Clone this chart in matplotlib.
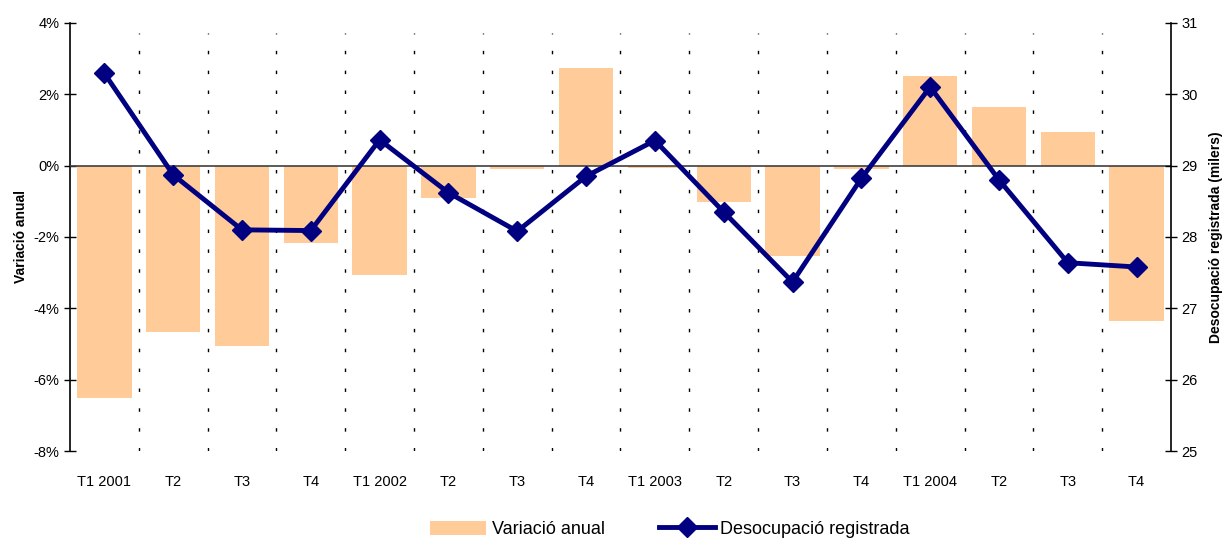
import numpy as np
import matplotlib
matplotlib.use("Agg")
import matplotlib.pyplot as plt
from matplotlib.ticker import FuncFormatter

plt.rcParams['font.family'] = ['Liberation Sans Narrow', 'Liberation Sans', 'DejaVu Sans']

# data
categories = ['T1 2001', 'T2', 'T3', 'T4',
              'T1 2002', 'T2', 'T3', 'T4',
              'T1 2003', 'T2', 'T3', 'T4',
              'T1 2004', 'T2', 'T3', 'T4']
variacio = [-6.50, -4.65, -5.04, -2.16,
            -3.06, -0.90, -0.10, 2.73,
            -0.06, -1.01, -2.52, -0.10,
            2.50, 1.63, 0.94, -4.34]
desocupacio = [30.29, 28.87, 28.10, 28.09,
               29.36, 28.62, 28.08, 28.85,
               29.35, 28.35, 27.37, 28.82,
               30.10, 28.80, 27.64, 27.58]

bar_color = '#FFCC99'
line_color = '#000080'

fig = plt.figure(figsize=(12.23, 5.38), dpi=100)
ax = fig.add_axes([0.0572, 0.161, 0.9003, 0.797])
ax2 = ax.twinx()

x = np.arange(len(categories))
bars = ax.bar(x, variacio, width=0.79, color=bar_color, zorder=2, label='Variació anual')
ax.axhline(0, color='#404040', lw=1.2, zorder=3)

# dotted separators between categories
for b in x[:-1] + 0.5:
    ax.axvline(b, ymax=0.975, color='black', lw=1.0, linestyle=(0, (2.5, 11.8)), zorder=1)

ax.set_xlim(-0.5, len(categories) - 0.5)
ax.set_ylim(-8, 4)
ax.set_yticks(np.arange(-8, 5, 2))
ax.yaxis.set_major_formatter(FuncFormatter(lambda v, p: '%d%%' % v))
ax.set_xticks(x)
ax.set_xticklabels(categories)
ax.tick_params(axis='x', length=0, pad=17, labelsize=10.5)
ax.tick_params(axis='y', direction='inout', length=9, width=1, labelsize=10.5, pad=3)
ax.set_ylabel('Variació anual', fontsize=10, fontweight='bold', labelpad=4)

line, = ax2.plot(x, desocupacio, color=line_color, lw=3.5, marker='D', markersize=10.5,
                 label='Desocupació registrada', zorder=4)
ax2.set_ylim(25, 31)
ax2.set_yticks(np.arange(25, 32, 1))
ax2.tick_params(axis='y', direction='inout', length=9, width=1, labelsize=10.5, pad=3)
ax2.set_ylabel('Desocupació registrada (milers)', fontsize=10, fontweight='bold', labelpad=8)

for a in (ax, ax2):
    a.spines['top'].set_visible(False)
    a.spines['bottom'].set_visible(False)
    a.spines['left'].set_linewidth(1.2)
    a.spines['right'].set_linewidth(1.2)
ax.spines['right'].set_visible(False)
ax2.spines['left'].set_visible(False)

fig.legend(handles=[bars, line], loc='lower center', bbox_to_anchor=(0.548, -0.03),
           ncol=2, frameon=False, fontsize=13, handlelength=3.1, handleheight=0.8,
           columnspacing=3.0, handletextpad=0.3)

fig.savefig('out.png', dpi=100)
